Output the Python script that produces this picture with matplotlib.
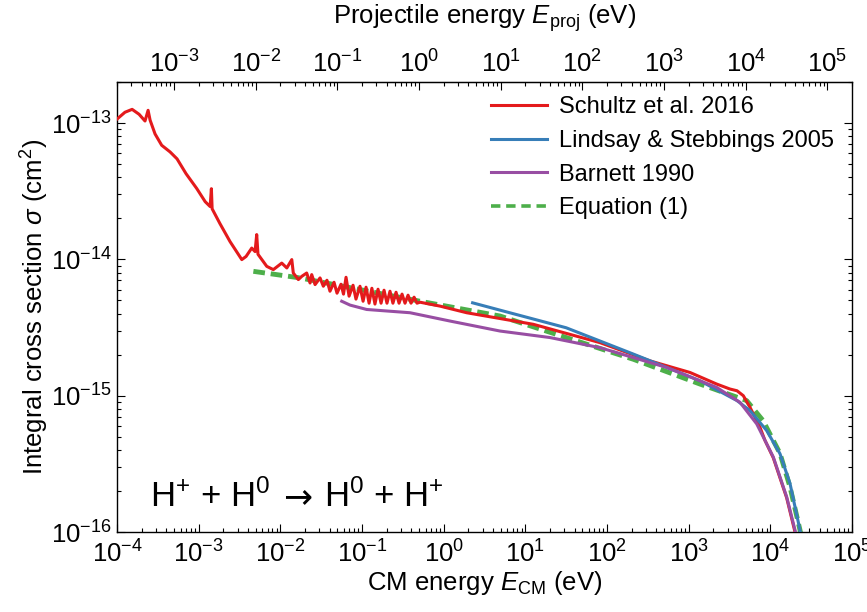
import numpy as np
import matplotlib
import matplotlib.pyplot as plt
from matplotlib.ticker import LogLocator, NullFormatter
from matplotlib.transforms import offset_copy

matplotlib.use('agg')

plt.rcParams['font.family'] = ['Liberation Sans', 'DejaVu Sans']
plt.rcParams['mathtext.fontset'] = 'custom'
plt.rcParams['mathtext.rm'] = 'Liberation Sans'
plt.rcParams['mathtext.it'] = 'Liberation Sans:italic'
plt.rcParams['mathtext.bf'] = 'Liberation Sans:bold'

# cross sections are in units of 1e-15 cm^2, energies in eV (CM frame)
SIGMA_UNIT = 1e-15

schultz_E = [1.0e-4, 1.25e-4, 1.53e-4, 1.86e-4, 2.20e-4, 2.40e-4, 2.54e-4, 2.92e-4,
             3.52e-4, 4.46e-4, 5.43e-4, 7.0e-4, 9.46e-4, 1.20e-3, 1.38e-3, 1.43e-3,
             1.46e-3, 1.82e-3, 2.42e-3, 3.37e-3, 3.80e-3, 4.46e-3, 4.9e-3, 5.13e-3,
             5.32e-3, 6.81e-3, 8.20e-3, 1.04e-2, 1.20e-2, 1.38e-2, 1.44e-2, 1.66e-2,
             1.83e-2, 2.10e-2, 2.31e-2, 2.42e-2, 2.66e-2, 3.06e-2, 3.36e-2,
             3.72e-2, 4.05e-2, 4.54e-2, 4.94e-2, 5.53e-2, 5.93e-2, 6.37e-2, 6.94e-2,
             7.76e-2, 8.43e-2, 9.44e-2, 0.103, 0.112, 0.122, 0.132, 0.144, 0.157,
             0.171, 0.186, 0.202, 0.220, 0.239, 0.261, 0.284, 0.309, 0.336, 0.366,
             0.398, 0.434, 0.471, 0.513, 0.902, 1.91, 12.5, 82.0, 336, 1038, 2203,
             3206, 3908, 4667, 5636, 7464, 8595, 10870, 15850, 20040, 21500]
schultz_sigma = [107, 120, 126, 116, 103.5, 124, 105, 83.2,
                 68.7, 61.4, 54.6, 42.5, 33.1, 26.5, 24.4, 33.0,
                 23.5, 18.3, 13.5, 9.96, 10.5, 12.1, 11.4, 15.2,
                 10.9, 8.89, 8.41, 9.39, 8.65, 9.96, 7.94, 7.11,
                 7.51, 7.94, 6.71, 7.73, 6.53, 7.31, 6.35,
                 7.03, 5.84, 6.79, 5.65, 6.57, 5.56, 7.39, 5.37,
                 6.46, 5.11, 6.35, 4.93, 6.25, 4.77, 6.14, 4.70, 6.04,
                 4.77, 5.94, 4.77, 5.84, 4.77, 5.74, 4.77, 5.56, 4.77, 5.46,
                 4.77, 5.28, 4.77, 4.85, 4.54, 4.06, 3.34, 2.45, 1.80, 1.48, 1.217,
                 1.119, 1.087, 1.0, 0.822, 0.587, 0.470, 0.350, 0.178, 0.100, 0.085]

lindsay_E = [2.26, 4.90, 31.6, 210, 1376, 3908, 5636, 9020, 13130, 17410, 23070, 24500]
lindsay_sigma = [4.80, 4.24, 3.15, 2.02, 1.286, 0.920, 0.777, 0.555, 0.375, 0.227, 0.1034, 0.08]

barnett_E = [0.0564, 0.0713, 0.114, 0.387, 1.19, 4.90, 20.0, 82.0, 538, 2203, 4250,
             6808, 10870, 15850, 20040, 21500]
barnett_sigma = [4.93, 4.62, 4.29, 4.06, 3.53, 2.98, 2.67, 2.25, 1.61, 1.15, 0.894,
                 0.621, 0.355, 0.181, 0.1034, 0.085]

eq1_E = [4.67e-3, 1.74e-2, 0.513, 4.90, 31.6, 210, 1376, 5130, 8130, 13130, 17410, 23070, 25000]
eq1_sigma = [8.17, 7.31, 4.93, 3.84, 2.67, 1.85, 1.217, 0.920, 0.657, 0.377, 0.214, 0.1034, 0.08]

fig = plt.figure(figsize=(8.67, 6.12), dpi=100)
ax = fig.add_axes([0.135, 0.1307, 0.8477, 0.7353])

ax.plot(schultz_E, np.array(schultz_sigma) * SIGMA_UNIT, color='#e41a1c', lw=2.2,
        label='Schultz et al. 2016', zorder=3)
ax.plot(lindsay_E, np.array(lindsay_sigma) * SIGMA_UNIT, color='#377eb8', lw=2.2,
        label='Lindsay & Stebbings 2005', zorder=4)
ax.plot(barnett_E, np.array(barnett_sigma) * SIGMA_UNIT, color='#984ea3', lw=2.2,
        label='Barnett 1990', zorder=5)
ax.plot(eq1_E, np.array(eq1_sigma) * SIGMA_UNIT, color='#4daf4a', lw=3.5,
        ls=(0, (2.4, 1.2)), label='Equation (1)', zorder=2)

ax.set_xscale('log')
ax.set_yscale('log')
ax.set_xlim(1e-4, 1e5)
ax.set_ylim(1e-16, 2e-13)

for axis in [ax.xaxis, ax.yaxis]:
    axis.set_major_locator(LogLocator(base=10, numticks=30))
    axis.set_minor_locator(LogLocator(base=10, subs=np.arange(2, 10), numticks=30))
    axis.set_minor_formatter(NullFormatter())

ax.tick_params(which='both', direction='in', top=False, right=True, labelsize=18.5, width=0.8)
ax.tick_params(which='major', length=6)
ax.tick_params(which='minor', length=3)
ax.tick_params(axis='x', pad=6)
for sp in ax.spines.values():
    sp.set_linewidth(1.0)

ax.set_xlabel(r'CM energy $E_{\rm CM}$ (eV)', fontsize=18.5, labelpad=1)
ax.set_ylabel(r'Integral cross section $\sigma$ (cm$^2$)', fontsize=18.5, labelpad=0)

secax = ax.secondary_xaxis('top', functions=(lambda x: 2 * x, lambda x: x / 2))
secax.xaxis.set_major_locator(LogLocator(base=10, numticks=30))
secax.xaxis.set_minor_locator(LogLocator(base=10, subs=np.arange(2, 10), numticks=30))
secax.xaxis.set_minor_formatter(NullFormatter())
secax.tick_params(which='both', direction='in', labelsize=18.5, width=0.8, pad=3)
secax.tick_params(which='major', length=6)
secax.tick_params(which='minor', length=3)
secax.set_xlabel(r'Projectile energy $E_{\rm proj}$ (eV)', fontsize=18.5, labelpad=19)

leg = ax.legend(loc='upper left', bbox_to_anchor=(0.4925, 0.995), frameon=False, fontsize=17,
                handlelength=2.4, handletextpad=0.5, labelspacing=0.5, borderpad=0)
# the dashed legend sample is thinner than the plotted line
leg.get_lines()[3].set_linewidth(2.6)
leg.get_lines()[3].set_linestyle((0, (2.6, 1.6)))

# reaction label: arrow taken from DejaVu Sans, the rest in the main font
t1 = ax.text(0.045, 0.0556, r'H$^{+}$ + H$^{0}$', transform=ax.transAxes,
             fontsize=25, va='baseline', ha='left')
fig.canvas.draw()
renderer = fig.canvas.get_renderer()
x_end = ax.transAxes.inverted().transform(t1.get_window_extent(renderer))[1, 0]
t2 = ax.text(x_end, 0.0556, '\u2192', fontsize=25, va='baseline', ha='left', family='DejaVu Sans',
             transform=offset_copy(ax.transAxes, fig=fig, x=13, y=0, units='dots'))
fig.canvas.draw()
x_end2 = ax.transAxes.inverted().transform(t2.get_window_extent(renderer))[1, 0]
ax.text(x_end2, 0.0556, r'H$^{0}$ + H$^{+}$', fontsize=25, va='baseline', ha='left',
        transform=offset_copy(ax.transAxes, fig=fig, x=12, y=0, units='dots'))

fig.savefig('out.png', dpi=100)
